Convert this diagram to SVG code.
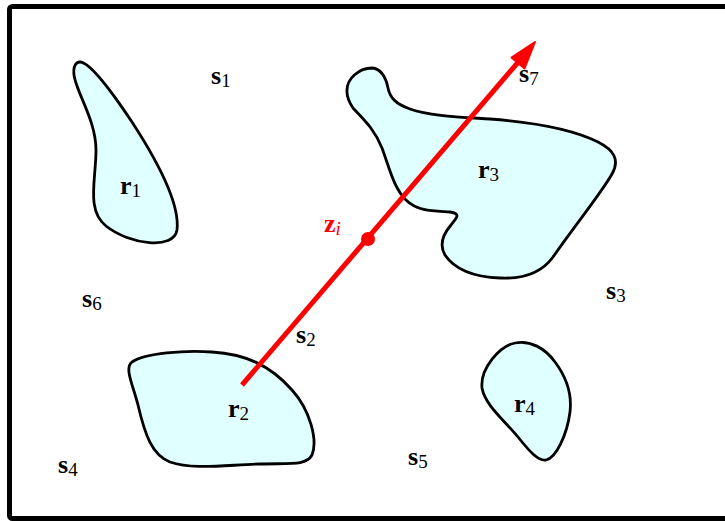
<svg xmlns="http://www.w3.org/2000/svg" width="725" height="521" viewBox="0 0 725 521">
<style>
.region{fill:#e0ffff;stroke:#000;stroke-width:2.8;stroke-linejoin:round}
.lbl{font-family:"Liberation Serif","Times New Roman",serif;font-size:26px;font-weight:bold;fill:#000}
.sub{font-weight:normal;font-size:19px}
.red{fill:#ff0000}
</style>
<rect x="9.5" y="6.5" width="740" height="512" rx="3" fill="#fff" stroke="#000" stroke-width="5"/>
<g id="r1">
<path class="region" d="M80,62 C90,62 112,92 132,122 C158,162 180,205 177,230 C174,250 130,245 106,226 C86,210 96,180 96,150 C96,120 76,92 74,75 C73,66 76,62 80,62 Z"/>
<text class="lbl" x="120" y="194">r<tspan class="sub" dy="3">1</tspan></text>
</g>
<g id="r2">
<path class="region" d="M132,362 C145,353 185,350 212,352 C245,354 270,365 292,390 C310,410 318,440 312,455 C306,466 290,463 260,464 C225,465 193,470 170,462 C152,455 145,435 138,405 C133,385 124,368 132,362 Z"/>
<text class="lbl" x="228" y="417">r<tspan class="sub" dy="3">2</tspan></text>
</g>
<g id="r3">
<path class="region" d="M347,92 C346,78 360,68 372,68 C382,69 386,78 388,88 C390,98 396,104 410,109 C430,116 460,117 490,119 C530,122 570,128 598,142 C614,150 620,160 612,174 C600,195 575,225 553,257 C540,275 520,279 500,278 C475,277 455,270 445,255 C438,243 445,232 451,225 C456,218 462,214 450,212 C435,211 418,212 406,200 C394,188 390,170 382,148 C374,128 362,118 353,108 C349,102 347,97 347,92 Z"/>
<text class="lbl" x="478" y="178">r<tspan class="sub" dy="3">3</tspan></text>
</g>
<g id="r4">
<path class="region" d="M515,343 C530,340 545,348 555,362 C567,378 572,395 570,412 C567,435 556,458 546,460 C538,461 530,452 518,437 C504,420 485,405 482,388 C480,368 500,346 515,343 Z"/>
<text class="lbl" x="514" y="412">r<tspan class="sub" dy="3">4</tspan></text>
</g>
<g id="labels">
<text class="lbl" x="211" y="84">s<tspan class="sub" dy="3">1</tspan></text>
<text class="lbl" x="519" y="82">s<tspan class="sub" dy="3">7</tspan></text>
<text class="lbl" x="82" y="307">s<tspan class="sub" dy="3">6</tspan></text>
<text class="lbl" x="606" y="299">s<tspan class="sub" dy="3">3</tspan></text>
<text class="lbl" x="296" y="343">s<tspan class="sub" dy="3">2</tspan></text>
<text class="lbl" x="58" y="473">s<tspan class="sub" dy="3">4</tspan></text>
<text class="lbl" x="408" y="465">s<tspan class="sub" dy="3">5</tspan></text>
<text class="lbl red" x="324" y="232">z<tspan class="sub" dy="3" font-style="italic">i</tspan></text>
</g>
<g id="connectors">
<line x1="242" y1="385" x2="520" y2="60" stroke="#ff0000" stroke-width="5"/>
<polygon points="535,42 511.5,57.5 524.5,68.5" fill="#ff0000" stroke="#ff0000" stroke-width="2" stroke-linejoin="round"/>
<circle cx="368" cy="239" r="7" fill="#ff0000"/>
</g>
</svg>
